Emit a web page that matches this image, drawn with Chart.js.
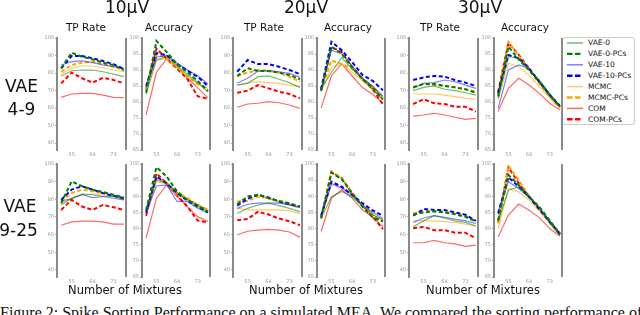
<!DOCTYPE html>
<html>
<head>
<meta charset="utf-8">
<script src="https://cdn.jsdelivr.net/npm/chart.js@4.4.0/dist/chart.umd.min.js"></script>
<style>
  body { margin: 0; width: 640px; height: 315px; overflow: hidden; position: relative; background: #fff; font-family: "DejaVu Sans", sans-serif; }
  .lbl { position: absolute; white-space: nowrap; line-height: 1; color: #111; transform: translateX(-50%); }
  .panel { position: absolute; }
  #legend { position: absolute; left: 562px; top: 37px; width: 73px; height: 88px; border: 1px solid #ccc; border-radius: 3px; background: #fff; box-sizing: border-box; }
  .legtxt { position: absolute; left: 25px; font-size: 7.5px; line-height: 1; color: #111; white-space: nowrap; }
  #caption { position: absolute; left: 0; top: 305px; width: 640px; font-family: "Liberation Serif", serif; font-size: 16px; line-height: 16px; text-align: justify; text-align-last: justify; color: #111; white-space: nowrap; }
</style>
</head>
<body>
<div id="legend"></div>
<div id="caption">Figure 2: Spike Sorting Performance on a simulated MEA. We compared the sorting performance of all</div>
<script>
// series order for every panel
const methods = ['VAE-0', 'VAE-0-PCs', 'VAE-10', 'VAE-10-PCs', 'MCMC', 'MCMC-PCs', 'COM', 'COM-PCs'];
const mixtures = [50, 55, 60, 64, 68, 73, 78];
const xTickIdx = [1, 3, 5];
const tpTicks = [40, 50, 60, 70, 80, 90, 100];
const accTicks = [65, 70, 75, 80, 85, 90, 95, 100];

// VAE 4-9 row
const tp_4_9_10 = [
  [78.3, 81.3, 81.7, 81.7, 80.7, 79.4, 77.9],
  [82.7, 91.6, 89.3, 87.8, 85.9, 84.6, 81.7],
  [84.6, 86.5, 86.9, 85.9, 84.6, 83.6, 82.7],
  [82.7, 89.7, 89.7, 88.4, 86.9, 85.0, 82.3],
  [79.4, 82.7, 84.0, 84.0, 83.0, 81.7, 80.7],
  [80.7, 84.6, 85.9, 86.5, 85.1, 83.6, 81.7],
  [66.1, 68.0, 68.4, 68.4, 67.4, 66.1, 65.9],
  [74.1, 80.2, 77.0, 74.5, 77.3, 76.0, 74.1]
];
const acc_4_9_10 = [
  [82.4, 93.0, 94.3, 91.4, 88.5, 86.1, 83.2],
  [82.9, 99.1, 95.6, 91.9, 89.3, 86.6, 83.4],
  [84.5, 94.0, 94.6, 92.1, 90.0, 88.2, 85.6],
  [85.0, 95.3, 94.6, 91.9, 89.8, 87.9, 85.0],
  [84.3, 93.5, 93.2, 90.7, 87.9, 85.8, 84.3],
  [84.0, 94.6, 93.9, 90.9, 87.9, 85.6, 84.3],
  [76.0, 89.3, 93.5, 90.9, 87.5, 84.5, 81.3],
  [84.0, 96.7, 93.5, 90.4, 87.2, 81.8, 81.0]
];
const tp_4_9_20 = [
  [73.1, 74.1, 77.9, 78.3, 76.4, 74.5, 71.8],
  [78.3, 82.7, 81.1, 81.1, 80.2, 78.9, 76.4],
  [74.1, 77.0, 81.1, 81.3, 80.7, 79.8, 77.5],
  [80.7, 87.4, 85.1, 85.1, 83.6, 81.7, 79.4],
  [73.1, 74.5, 75.0, 74.5, 74.1, 73.1, 72.2],
  [78.3, 80.2, 81.7, 81.3, 80.2, 77.9, 75.0],
  [60.4, 62.3, 62.7, 63.6, 63.0, 61.7, 59.8],
  [68.7, 69.9, 73.1, 71.2, 69.3, 68.0, 65.5]
];
const acc_4_9_20 = [
  [84.0, 89.3, 93.9, 90.4, 87.2, 84.0, 80.8],
  [83.4, 97.2, 95.1, 90.9, 87.2, 84.5, 80.8],
  [83.7, 96.2, 95.1, 91.4, 87.5, 85.0, 81.8],
  [84.0, 98.8, 96.2, 92.5, 88.5, 86.6, 83.7],
  [83.4, 90.9, 91.9, 89.3, 86.6, 84.0, 80.8],
  [83.7, 93.0, 91.9, 90.4, 87.5, 84.7, 81.3],
  [78.1, 88.2, 91.9, 88.2, 84.5, 82.4, 79.7],
  [84.0, 97.2, 95.6, 90.9, 87.2, 84.0, 79.2]
];
const tp_4_9_30 = [
  [69.9, 71.8, 72.6, 70.7, 69.9, 68.7, 67.4],
  [71.8, 73.7, 73.7, 72.6, 71.8, 70.7, 68.7],
  [71.2, 74.1, 74.5, 76.0, 75.0, 73.1, 71.2],
  [76.0, 77.5, 78.3, 77.9, 76.0, 74.5, 72.6],
  [68.0, 68.0, 68.0, 67.4, 66.5, 65.5, 65.0],
  [72.2, 73.7, 73.1, 72.6, 71.8, 70.7, 69.3],
  [55.4, 56.0, 57.0, 56.0, 54.7, 53.5, 54.1],
  [62.3, 65.0, 62.7, 62.3, 60.7, 60.7, 57.9]
];
const acc_4_9_30 = [
  [81.2, 94.2, 93.7, 90.0, 86.9, 82.7, 78.5],
  [81.7, 97.3, 93.3, 90.0, 86.3, 82.2, 78.5],
  [78.0, 90.0, 91.6, 90.5, 86.3, 82.2, 78.8],
  [82.7, 94.7, 93.7, 90.5, 86.3, 82.2, 78.8],
  [80.6, 92.1, 91.0, 88.4, 84.8, 81.2, 78.0],
  [82.2, 98.8, 94.4, 90.0, 85.8, 81.7, 78.3],
  [77.0, 84.3, 87.4, 85.3, 82.7, 79.6, 77.5],
  [83.2, 98.5, 94.7, 90.5, 86.3, 82.2, 78.5]
];

// VAE 9-25 row
const tp_9_25_10 = [
  [76.8, 80.6, 83.0, 82.6, 81.6, 81.6, 80.3],
  [77.8, 90.2, 87.4, 85.5, 84.1, 82.6, 81.0],
  [79.1, 80.3, 82.6, 81.0, 81.6, 80.6, 79.7],
  [79.7, 85.5, 87.4, 85.5, 83.5, 82.0, 80.6],
  [77.8, 80.6, 82.6, 83.0, 82.6, 81.6, 79.7],
  [78.7, 83.5, 85.5, 84.5, 83.5, 82.0, 80.3],
  [65.3, 67.2, 67.6, 67.6, 67.2, 65.9, 65.9],
  [74.0, 79.7, 75.9, 74.0, 76.8, 75.5, 74.0]
];
const acc_9_25_10 = [
  [86.3, 95.1, 94.0, 91.0, 88.9, 86.8, 85.3],
  [85.8, 99.0, 96.1, 91.5, 88.9, 87.3, 85.3],
  [84.8, 93.2, 93.5, 88.4, 88.4, 86.3, 84.8],
  [85.0, 96.1, 94.0, 91.0, 88.7, 86.8, 85.0],
  [84.8, 94.5, 93.8, 90.4, 89.1, 87.3, 85.6],
  [85.3, 95.6, 94.2, 91.0, 89.4, 87.3, 85.8],
  [77.1, 89.4, 93.5, 89.9, 86.8, 83.7, 82.2],
  [84.0, 97.1, 94.0, 90.4, 86.8, 82.5, 81.9]
];
const tp_9_25_20 = [
  [72.0, 74.9, 76.8, 77.8, 76.4, 74.9, 73.0],
  [77.2, 81.6, 82.6, 80.6, 79.1, 77.8, 75.9],
  [74.9, 77.2, 77.8, 77.8, 77.8, 76.8, 75.3],
  [76.4, 80.3, 82.6, 81.0, 78.7, 77.2, 75.9],
  [74.9, 74.0, 74.0, 74.0, 74.0, 73.4, 72.0],
  [78.7, 79.1, 81.6, 80.6, 78.7, 77.2, 75.3],
  [59.9, 61.9, 62.5, 63.0, 62.5, 61.5, 58.6],
  [68.2, 68.8, 73.0, 71.4, 69.1, 67.6, 65.3]
];
const acc_9_25_20 = [
  [83.2, 89.9, 91.5, 89.9, 87.0, 84.3, 82.7],
  [83.2, 97.3, 95.3, 91.0, 86.8, 83.5, 82.2],
  [83.7, 94.0, 92.5, 90.4, 87.3, 85.0, 83.2],
  [84.0, 94.5, 93.0, 90.4, 87.9, 85.6, 84.0],
  [83.2, 93.5, 92.8, 90.7, 87.3, 84.3, 82.7],
  [83.5, 97.6, 95.6, 91.0, 87.3, 84.3, 82.2],
  [79.1, 89.4, 92.0, 89.4, 85.8, 83.5, 80.6],
  [83.2, 97.6, 95.6, 91.0, 87.3, 83.7, 79.8]
];
const tp_9_25_30 = [
  [64.4, 67.8, 70.7, 69.4, 67.8, 66.9, 64.9],
  [71.3, 72.6, 73.2, 72.6, 71.6, 70.1, 67.4],
  [66.9, 69.4, 70.7, 69.8, 68.8, 67.8, 66.3],
  [70.7, 74.5, 74.0, 74.0, 72.6, 71.3, 67.8],
  [67.8, 67.8, 67.8, 67.4, 66.9, 65.9, 64.9],
  [72.0, 73.6, 73.2, 73.0, 72.0, 70.7, 67.8],
  [55.4, 55.4, 56.7, 55.4, 54.8, 53.4, 54.0],
  [63.6, 64.4, 62.5, 62.5, 61.1, 61.1, 57.9]
];
const acc_9_25_30 = [
  [82.1, 91.9, 93.0, 89.6, 86.7, 81.8, 78.0],
  [82.6, 96.6, 93.5, 89.9, 86.7, 82.6, 78.3],
  [85.2, 94.5, 92.4, 89.6, 86.2, 82.1, 78.0],
  [84.7, 95.9, 93.0, 89.9, 86.2, 82.1, 78.3],
  [80.0, 92.4, 91.4, 88.8, 85.5, 81.6, 78.0],
  [81.6, 99.4, 95.0, 90.1, 86.2, 82.1, 78.5],
  [77.4, 84.2, 87.6, 85.7, 83.4, 80.0, 77.6],
  [82.1, 99.0, 94.0, 89.9, 85.7, 82.1, 78.5]
];

// styles
const lineColors = ['rgba(0,128,0,0.55)', 'rgb(0,128,0)', 'rgba(0,0,255,0.5)', 'rgb(0,0,255)',
                    'rgba(255,165,0,0.6)', 'rgb(255,165,0)', 'rgba(255,0,0,0.6)', 'rgb(255,0,0)'];
const isDashed = [false, true, false, true, false, true, false, true];
const spineColor = '#8a8a8a';
const tickColor = '#999';

// layout (plot areas in page pixels)
const colLeft = [57, 142, 233, 317, 409, 494];
const colRight = [126, 210, 302, 385, 478, 562];
const rowTop = [38, 164];
const rowBottom = [150, 277];

const panels = [
  [tp_4_9_10, 'tp', 0, 0], [acc_4_9_10, 'acc', 0, 1],
  [tp_4_9_20, 'tp', 0, 2], [acc_4_9_20, 'acc', 0, 3],
  [tp_4_9_30, 'tp', 0, 4], [acc_4_9_30, 'acc', 0, 5],
  [tp_9_25_10, 'tp', 1, 0], [acc_9_25_10, 'acc', 1, 1],
  [tp_9_25_20, 'tp', 1, 2], [acc_9_25_20, 'acc', 1, 3],
  [tp_9_25_30, 'tp', 1, 4], [acc_9_25_30, 'acc', 1, 5]
];

Chart.defaults.font.family = '"DejaVu Sans", sans-serif';
Chart.defaults.animation = false;

const rightSpine = {
  id: 'rightSpine',
  afterDraw(chart) {
    const a = chart.chartArea, ctx = chart.ctx;
    ctx.save();
    ctx.strokeStyle = spineColor;
    ctx.lineWidth = 2;
    ctx.beginPath();
    ctx.moveTo(a.right, a.top);
    ctx.lineTo(a.right, a.bottom);
    ctx.stroke();
    ctx.restore();
  }
};

const padL = 22, padT = 5, padR = 4, padB = 10;

panels.forEach(([series, kind, row, col]) => {
  const L = colLeft[col], R = colRight[col], T = rowTop[row], B = rowBottom[row];
  const box = document.createElement('div');
  box.className = 'panel';
  box.style.left = (L - padL) + 'px';
  box.style.top = (T - padT) + 'px';
  box.style.width = (R - L + padL + padR) + 'px';
  box.style.height = (B - T + padT + padB) + 'px';
  const cv = document.createElement('canvas');
  box.appendChild(cv);
  document.body.appendChild(box);

  const yTicks = kind === 'tp' ? tpTicks : accTicks;
  new Chart(cv, {
    type: 'line',
    data: {
      datasets: series.map((vals, i) => ({
        label: methods[i],
        data: vals.map((v, j) => ({ x: j, y: v })),
        borderColor: lineColors[i],
        borderWidth: isDashed[i] ? 2 : 1.2,
        borderDash: isDashed[i] ? [4, 2.5] : [],
        pointRadius: 0,
        tension: 0,
        fill: false
      }))
    },
    options: {
      responsive: true,
      maintainAspectRatio: false,
      devicePixelRatio: 1,
      events: [],
      layout: { padding: { top: padT, right: padR, left: 0, bottom: 0 } },
      plugins: { legend: { display: false }, tooltip: { enabled: false } },
      scales: {
        x: {
          type: 'linear', min: -0.4, max: 6.2,
          afterFit: s => { s.height = padB; },
          afterBuildTicks: s => { s.ticks = xTickIdx.map(v => ({ value: v })); },
          grid: { display: false, drawTicks: false },
          border: { display: false },
          ticks: { font: { size: 5 }, color: tickColor, padding: 2, maxRotation: 0, autoSkip: false,
                   callback: v => mixtures[v] }
        },
        y: {
          min: kind === 'tp' ? 36 : 65, max: 100,
          afterFit: s => { s.width = padL; },
          afterBuildTicks: s => { s.ticks = yTicks.map(v => ({ value: v })); },
          grid: { display: true, drawOnChartArea: false, drawTicks: true, tickLength: 2, color: '#aaa' },
          border: { display: true, color: spineColor, width: 2 },
          ticks: { font: { size: 5 }, color: tickColor, padding: 1 }
        }
      }
    },
    plugins: [rightSpine]
  });
});

// text labels
function label(text, cx, baseline, size) {
  const d = document.createElement('div');
  d.className = 'lbl';
  d.textContent = text;
  d.style.fontSize = size + 'px';
  d.style.left = cx + 'px';
  d.style.top = (baseline - 0.846 * size) + 'px';
  document.body.appendChild(d);
}
[['10µV', 127], ['20µV', 306], ['30µV', 480]].forEach(([t, x]) => label(t, x, 13, 17));
[86, 264, 440].forEach(x => label('TP Rate', x, 30.7, 10.5));
[169, 348, 525].forEach(x => label('Accuracy', x, 30.7, 10.5));
label('VAE', 21.5, 92.7, 17);
label('4-9', 21.5, 115, 17);
label('VAE', 20, 212.7, 17);
label('9-25', 18.5, 236.7, 17);
[125, 306, 483].forEach(x => label('Number of Mixtures', x, 295, 11.5));

// legend
const leg = document.getElementById('legend');
const ns = 'http://www.w3.org/2000/svg';
const svg = document.createElementNS(ns, 'svg');
svg.setAttribute('width', '73');
svg.setAttribute('height', '88');
svg.style.position = 'absolute';
svg.style.left = '-1px';
svg.style.top = '-1px';
leg.appendChild(svg);
methods.forEach((m, i) => {
  const cy = 6 + i * 10.9;
  const ln = document.createElementNS(ns, 'line');
  ln.setAttribute('x1', 5); ln.setAttribute('x2', 21);
  ln.setAttribute('y1', cy); ln.setAttribute('y2', cy);
  ln.setAttribute('stroke', lineColors[i]);
  ln.setAttribute('stroke-width', isDashed[i] ? 2.4 : 1.5);
  if (isDashed[i]) ln.setAttribute('stroke-dasharray', '5.5,2.5');
  svg.appendChild(ln);
  const t = document.createElement('div');
  t.className = 'legtxt';
  t.textContent = m;
  t.style.top = (cy - 1 - 3.6) + 'px';
  leg.appendChild(t);
});
</script>
</body>
</html>
